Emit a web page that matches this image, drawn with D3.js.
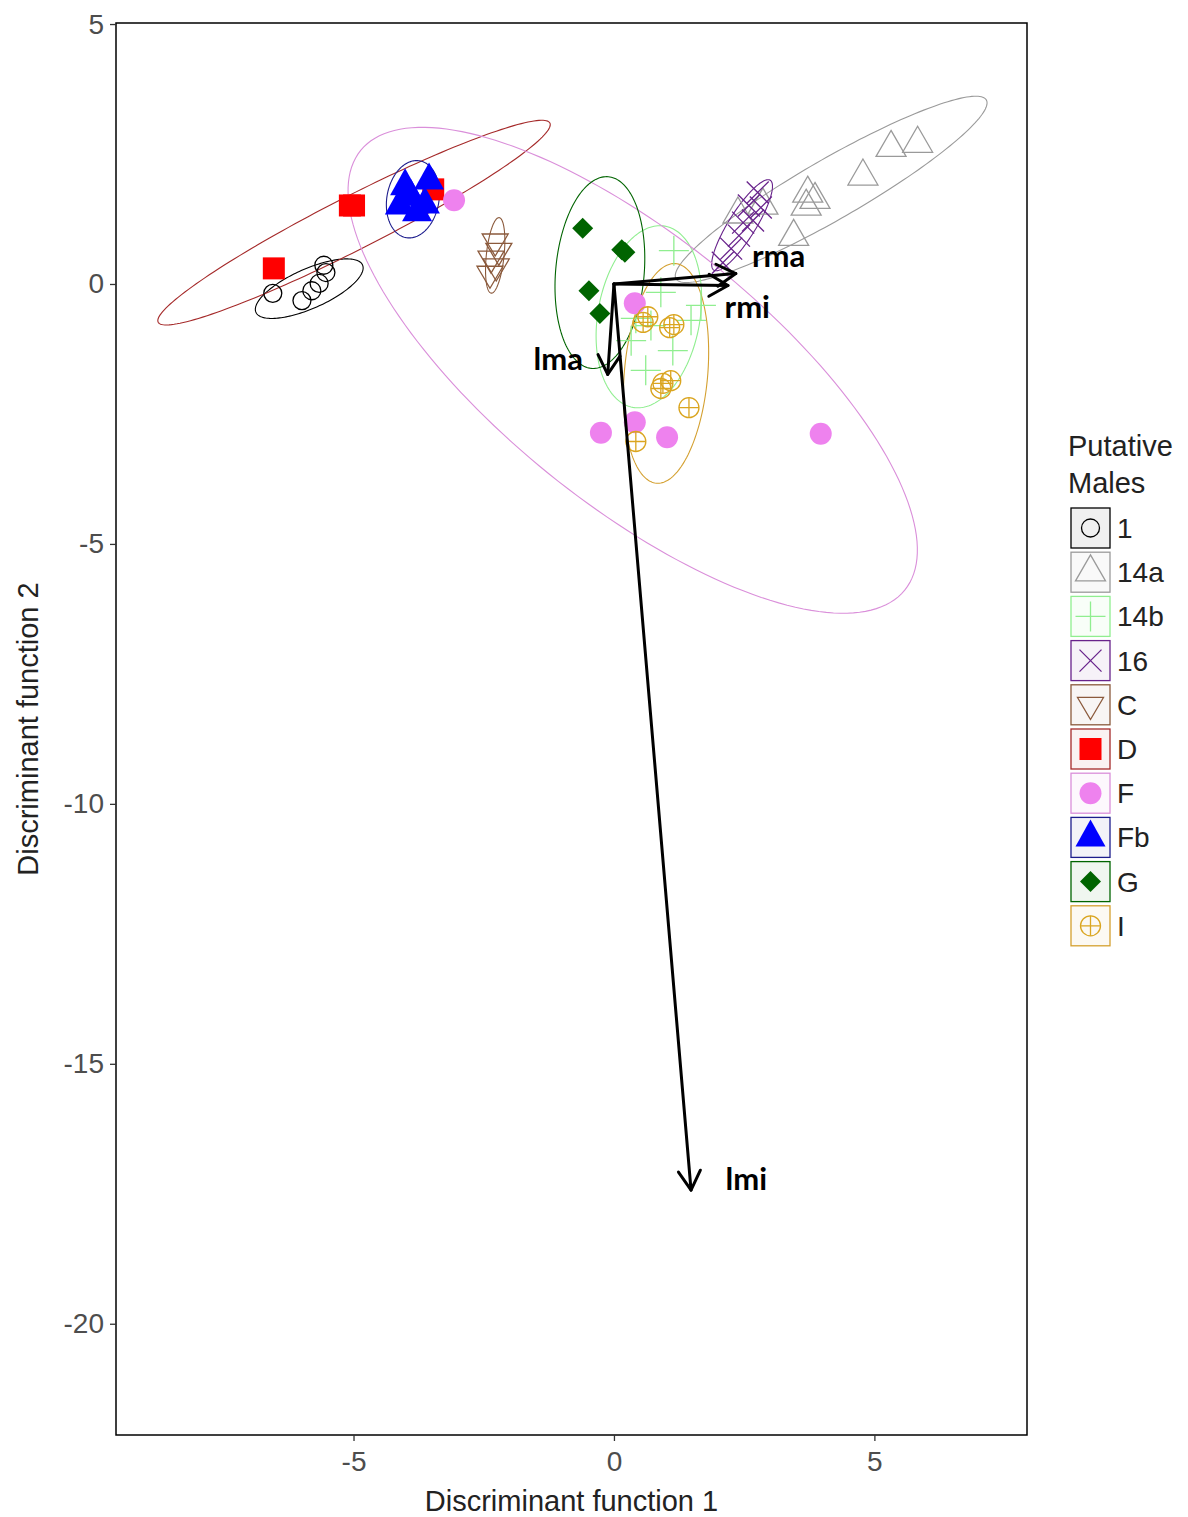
<!DOCTYPE html>
<html><head><meta charset="utf-8">
<script src="https://cdn.jsdelivr.net/npm/d3@7"></script>
<style>body{margin:0;background:#fff}</style>
</head><body>
<svg id="c" width="1188" height="1517"></svg>
<script>
// ---------------- DATA ----------------
const groups = ["1","14a","14b","16","C","D","F","Fb","G","I"];
const xTicks = [-5, 0, 5];
const yTicks = [5, 0, -5, -10, -15, -20];

const pts1   = [[-6.55,-0.18],[-5.99,-0.32],[-5.80,-0.13],[-5.66,0.01],[-5.57,0.36],[-5.53,0.22]];
const pts14a = [[5.32,2.62],[5.83,2.70],[4.78,2.07],[3.72,1.74],[3.86,1.62],[3.69,1.49],[3.45,0.91],[2.38,1.34],[2.86,1.51]];
const pts14b = [[1.15,0.64],[0.90,-0.16],[0.42,-0.66],[0.71,-0.80],[1.48,-0.70],[0.33,-1.09],[1.13,-1.28],[0.61,-1.66],[1.67,-0.41]];
const pts16  = [[2.76,1.76],[2.59,1.51],[2.82,1.47],[2.48,1.18],[2.40,0.93],[2.25,0.68],[2.09,0.41],[2.67,1.22]];
const ptsC   = [[-2.28,0.82],[-2.21,0.64],[-2.36,0.49],[-2.26,0.34],[-2.38,0.20]];
const ptsD   = [[-6.53,0.30],[-5.07,1.51],[-4.99,1.51],[-3.47,1.82]];
const ptsF   = [[-3.07,1.61],[0.40,-0.37],[-0.25,-2.86],[0.40,-2.66],[1.02,-2.95],[3.97,-2.88]];
const ptsFb  = [[-4.01,1.88],[-3.55,1.99],[-4.11,1.51],[-3.78,1.38],[-3.90,1.68],[-3.63,1.53]];
const ptsG   = [[-0.60,1.07],[0.15,0.66],[0.21,0.61],[-0.48,-0.13],[-0.27,-0.57]];
const ptsI   = [[0.65,-0.63],[0.56,-0.74],[1.07,-0.84],[1.15,-0.78],[0.94,-1.91],[1.09,-1.86],[0.90,-2.01],[1.44,-2.38],[0.42,-3.03]];

// ellipse parameters per group (centre, semi-axes, rotation in degrees), same order as groups
const ellCX    = [-5.85, 4.17, 0.67, 2.46, -2.28, -4.99, 0.36, -3.86, -0.27, 1.00];
const ellCY    = [-0.09, 1.82, -0.63, 1.13, 0.55, 1.18, -1.66, 1.63, 0.22, -1.72];
const ellA     = [1.12, 3.44, 1.77, 1.02, 0.73, 4.22, 6.72, 0.75, 1.85, 2.12];
const ellB     = [0.38, 0.58, 0.98, 0.26, 0.17, 0.51, 2.56, 0.50, 0.85, 0.80];
const ellAngle = [24, 30, 80, 58, 84, 27, -39, 80, 85, 85];

// loading arrows
const arrowNames = ["rma","rmi","lma","lmi"];
const arrowX = [2.34, 2.19, -0.12, 1.48];
const arrowY = [0.20, -0.03, -1.74, -17.43];
const labelX = [3.16, 2.56, -1.07, 2.54];
const labelY = [0.32, -0.66, -1.66, -17.43];

// ---------------- STYLE ----------------
const pointsByGroup = [pts1, pts14a, pts14b, pts16, ptsC, ptsD, ptsF, ptsFb, ptsG, ptsI];
const shapeOf = ["circleOpen","triUpOpen","plus","cross","triDownOpen","square","dot","triUpFill","diamond","circlePlus"];
const colorOf = ["#000000","#9a9a9a","#90EE90","#68228B","#8B5A3C","#FF0000","#EE82EE","#0000FF","#006400","#DAA520"];
const ellColorOf = ["#000000","#9a9a9a","#90EE90","#68228B","#8B5A3C","#A52A2A","#DA8FDA","#1C1C8C","#006400","#D4A030"];

const svg = d3.select("#c");
const P = {l:116, r:1027, t:23, b:1435};
const x = d3.scaleLinear().domain([-9.56, 7.93]).range([P.l, P.r]);
const y = d3.scaleLinear().domain([-22.14, 5.02]).range([P.b, P.t]);

svg.append("rect").attr("width",1188).attr("height",1517).attr("fill","#fff");

const clip = svg.append("defs").append("clipPath").attr("id","pc");
clip.append("rect").attr("x",P.l).attr("y",P.t).attr("width",P.r-P.l).attr("height",P.b-P.t);
const plot = svg.append("g").attr("clip-path","url(#pc)");

// ellipses
const line = d3.line().x(d=>x(d[0])).y(d=>y(d[1])).curve(d3.curveLinearClosed);
groups.forEach((g,i)=>{
  const th = ellAngle[i]*Math.PI/180;
  const pts = d3.range(0, 360, 2).map(t=>{
    const a = t*Math.PI/180;
    const u = ellA[i]*Math.cos(a), v = ellB[i]*Math.sin(a);
    return [ellCX[i] + u*Math.cos(th) - v*Math.sin(th), ellCY[i] + u*Math.sin(th) + v*Math.cos(th)];
  });
  plot.append("path").attr("d", line(pts)).attr("fill","none")
    .attr("stroke", ellColorOf[i]).attr("stroke-width",1.1);
});

// shape drawer
function drawShape(sel, shape, col){
  const sw = 1.3;
  switch(shape){
    case "circleOpen": sel.append("circle").attr("r",9).attr("fill","none").attr("stroke",col).attr("stroke-width",sw); break;
    case "triUpOpen": { const w=30,h=26; sel.append("path").attr("d",`M0,${-2*h/3}L${w/2},${h/3}L${-w/2},${h/3}Z`).attr("fill","none").attr("stroke",col).attr("stroke-width",sw); break; }
    case "triDownOpen": { const w=26,h=22; sel.append("path").attr("d",`M0,${2*h/3}L${w/2},${-h/3}L${-w/2},${-h/3}Z`).attr("fill","none").attr("stroke",col).attr("stroke-width",sw); break; }
    case "plus": { const s=15; sel.append("path").attr("d",`M${-s},0H${s}M0,${-s}V${s}`).attr("fill","none").attr("stroke",col).attr("stroke-width",sw); break; }
    case "cross": { const s=11; sel.append("path").attr("d",`M${-s},${-s}L${s},${s}M${-s},${s}L${s},${-s}`).attr("fill","none").attr("stroke",col).attr("stroke-width",sw); break; }
    case "square": sel.append("rect").attr("x",-11).attr("y",-11).attr("width",22).attr("height",22).attr("fill",col); break;
    case "dot": sel.append("circle").attr("r",11).attr("fill",col); break;
    case "triUpFill": { const w=30,h=27; sel.append("path").attr("d",`M0,${-2*h/3}L${w/2},${h/3}L${-w/2},${h/3}Z`).attr("fill",col); break; }
    case "diamond": { const s=10.5; sel.append("path").attr("d",`M0,${-s}L${s},0L0,${s}L${-s},0Z`).attr("fill",col); break; }
    case "circlePlus": { const r=10; sel.append("circle").attr("r",r).attr("fill","none").attr("stroke",col).attr("stroke-width",sw);
      sel.append("path").attr("d",`M${-r},0H${r}M0,${-r}V${r}`).attr("fill","none").attr("stroke",col).attr("stroke-width",sw); break; }
  }
}

// points
groups.forEach((g,i)=>{
  pointsByGroup[i].forEach(p=>{
    const gg = plot.append("g").attr("transform",`translate(${x(p[0])},${y(p[1])})`);
    drawShape(gg, shapeOf[i], colorOf[i]);
  });
});

// arrows
arrowNames.forEach((n,i)=>{
  const sx=x(0), sy=y(0), tx=x(arrowX[i]), ty=y(arrowY[i]);
  plot.append("line").attr("x1",sx).attr("y1",sy).attr("x2",tx).attr("y2",ty)
    .attr("stroke","#000").attr("stroke-width",3).attr("stroke-linecap","round");
  const ang = Math.atan2(ty-sy, tx-sx), L=22, wa=Math.PI/6;
  const w1=[tx-L*Math.cos(ang-wa), ty-L*Math.sin(ang-wa)];
  const w2=[tx-L*Math.cos(ang+wa), ty-L*Math.sin(ang+wa)];
  plot.append("path").attr("d",`M${w1[0]},${w1[1]}L${tx},${ty}L${w2[0]},${w2[1]}`)
    .attr("fill","none").attr("stroke","#000").attr("stroke-width",3).attr("stroke-linejoin","round").attr("stroke-linecap","round");
  plot.append("text").attr("x",x(labelX[i])).attr("y",y(labelY[i])).attr("text-anchor","middle")
    .attr("font-family","Lato, 'Open Sans', sans-serif").attr("font-weight","bold").attr("font-size",31)
    .attr("fill","#000").text(n);
});

// panel border
svg.append("rect").attr("x",P.l).attr("y",P.t).attr("width",P.r-P.l).attr("height",P.b-P.t)
  .attr("fill","none").attr("stroke","#000").attr("stroke-width",1.5);

// axes
const fontAx = "'Liberation Sans', Arial, sans-serif";
const xa = svg.append("g").attr("transform",`translate(0,${P.b})`)
  .call(d3.axisBottom(x).tickValues(xTicks).tickSize(6).tickPadding(10).tickFormat(d3.format("d")));
const ya = svg.append("g").attr("transform",`translate(${P.l},0)`)
  .call(d3.axisLeft(y).tickValues(yTicks).tickSize(6).tickPadding(6).tickFormat(d3.format("d")));
[xa,ya].forEach(a=>{
  a.select(".domain").remove();
  a.selectAll(".tick line").attr("stroke","#333").attr("stroke-width",1.3);
  a.selectAll(".tick text").attr("font-family",fontAx).attr("font-size",28).attr("fill","#4D4D4D");
});
ya.selectAll(".tick text").text(d=>d<0? "-"+Math.abs(d) : d);
xa.selectAll(".tick text").text(d=>d<0? "-"+Math.abs(d) : d);

svg.append("text").attr("x",(P.l+P.r)/2).attr("y",1511).attr("text-anchor","middle")
  .attr("font-family",fontAx).attr("font-size",29).attr("fill","#222").text("Discriminant function 1");
svg.append("text").attr("transform",`translate(38,${(P.t+P.b)/2}) rotate(-90)`).attr("text-anchor","middle")
  .attr("font-family",fontAx).attr("font-size",29).attr("fill","#222").text("Discriminant function 2");

// legend
const lg = svg.append("g");
lg.append("text").attr("x",1068).attr("y",456).attr("font-family",fontAx).attr("font-size",29).attr("fill","#222").text("Putative");
lg.append("text").attr("x",1068).attr("y",493).attr("font-family",fontAx).attr("font-size",29).attr("fill","#222").text("Males");
groups.forEach((g,i)=>{
  const cy = 528 + i*44.2;
  lg.append("rect").attr("x",1071).attr("y",cy-20).attr("width",39).attr("height",40)
    .attr("fill",ellColorOf[i]).attr("fill-opacity",0.06).attr("stroke",ellColorOf[i]).attr("stroke-width",1.3);
  const k = lg.append("g").attr("transform",`translate(1090.5,${cy})`);
  drawShape(k, shapeOf[i], colorOf[i]);
  lg.append("text").attr("x",1117).attr("y",cy+10).attr("font-family",fontAx).attr("font-size",28).attr("fill","#222").text(g);
});
</script>
</body></html>
